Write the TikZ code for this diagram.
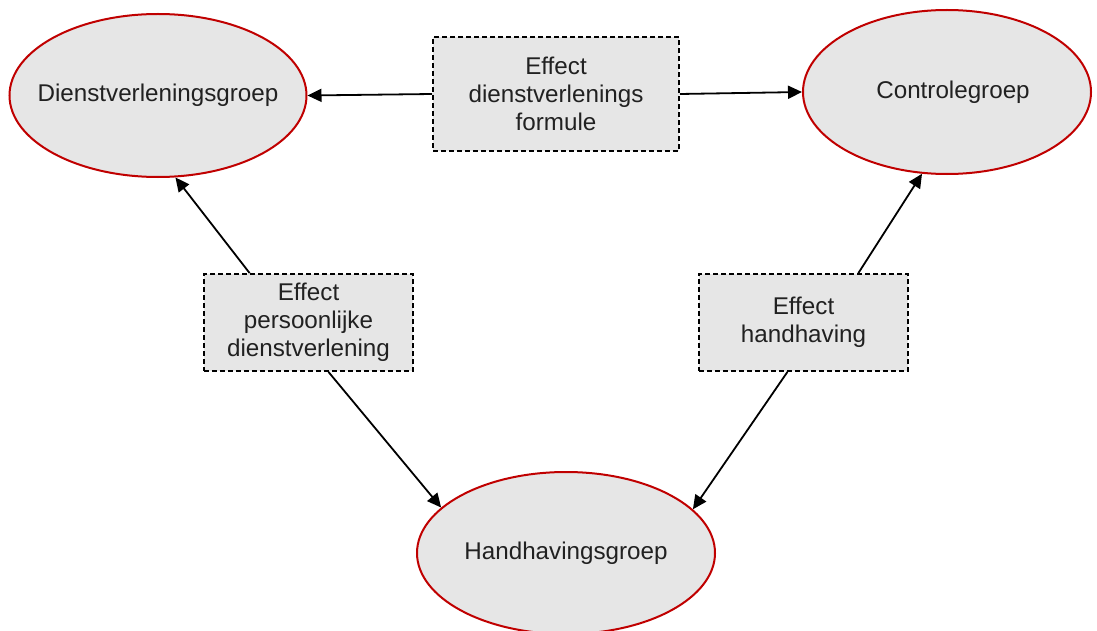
\documentclass[tikz,border=0pt]{standalone}
\usepackage{fontspec}
\setmainfont{Liberation Sans}
\usetikzlibrary{arrows.meta,shapes.geometric}
\definecolor{grpred}{HTML}{C00000}
\definecolor{grpfill}{HTML}{E6E6E6}
\newcommand{\grplabel}[1]{\makebox[0pt]{#1}}

\begin{document}
\begin{tikzpicture}[x=0.5pt,y=-0.5pt,->,>={Triangle[length=7pt,width=6.5pt]},
                    line width=0.9pt,font=\fontsize{12.1}{13.9}\selectfont]
  \tikzstyle{group}=[ellipse,draw=grpred,fill=grpfill,line width=1pt,inner sep=0pt,text=black!87]
  \tikzstyle{effect}=[rectangle,draw=black,dash pattern=on 2.5pt off 1.5pt,fill=grpfill,
                      align=center,inner sep=0pt,text=black!87,
                      minimum width=104.5pt,minimum height=48.5pt]
  \useasboundingbox (0,0) rectangle (1097,631);

  \node[group,minimum width=148.5pt,minimum height=81.5pt] (DG) at (158,95.5) {\grplabel{Dienstverleningsgroep}};
  \node[group,minimum width=144pt,minimum height=82pt]     (CG) at (947,92)   {\grplabel{\hspace{6pt}Controlegroep}};
  \node[group,minimum width=149pt,minimum height=81pt]     (HG) at (566,553)  {\grplabel{Handhavingsgroep}};

  \node[effect,minimum width=123pt,minimum height=57pt] (EF) at (556,94)
        {Effect\\dienstverlenings\\formule};
  \node[effect] (EP) at (308.5,322.5) {Effect\\persoonlijke\\dienstverlening};
  \node[effect] (EH) at (803.5,322.5) {Effect\\handhaving};

  \path (EF.west) edge (DG.east)
        (EF.east) edge (CG.west)
        (EP.140)  edge (DG.-78)
        (EP.-68)  edge (HG.160)
        (EH.42)   edge (CG.-107)
        (EH.-108) edge (HG.19);
\end{tikzpicture}
\end{document}
